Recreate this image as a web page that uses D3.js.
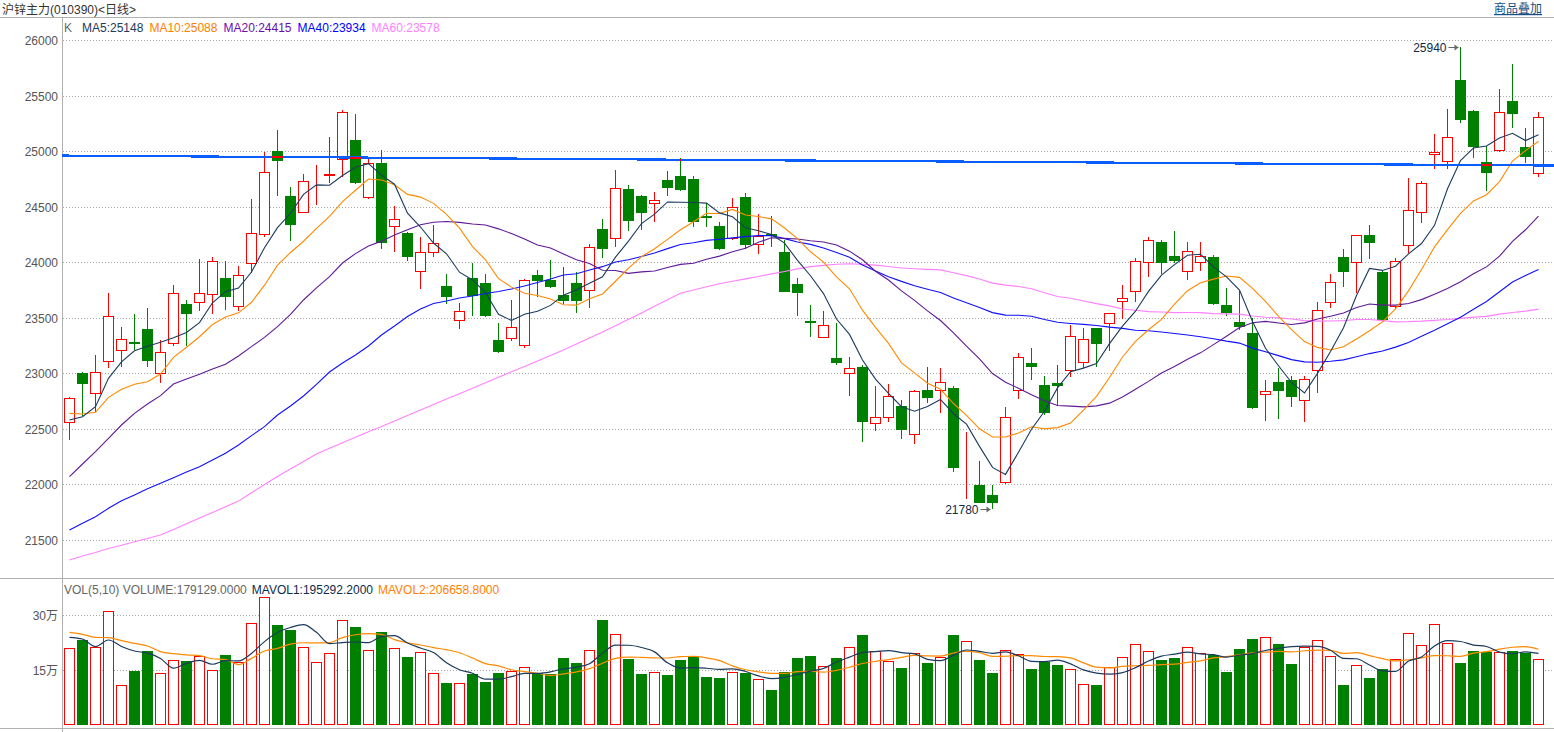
<!DOCTYPE html>
<html><head><meta charset="utf-8">
<script src="https://cdn.jsdelivr.net/npm/d3@7"></script>
<style>
html,body{margin:0;padding:0;background:#fff;overflow:hidden;}
svg{display:block;font-family:"Liberation Sans",Arial,"Noto Sans CJK SC",sans-serif;}
</style></head><body>
<svg id="chart" width="1554" height="732"></svg>
<script>
// ---------- DATA ----------
const title = "沪锌主力(010390)<日线>";
const opens = [22565,23000,22820,23108,23207,23285,23399,23000,23270,23624,23645,23711,23858,23603,23996,24251,25001,24596,24455,24685,
24788,24926,25100,24584,24896,24326,24266,23918,24089,23786,23480,23855,23813,23300,23315,23252,23885,23840,23705,23813,
23747,24299,24215,24659,24596,24530,24740,24776,24749,24420,24326,24215,24587,24161,24250,24095,23804,23470,23330,23141,
23000,23060,22550,22604,22706,22451,22850,22847,22868,22020,21995,21905,22025,22847,23090,22895,22910,23027,23099,23408,
23450,23648,23738,24005,24182,24056,23918,23999,24047,23615,23459,23360,22811,22922,22940,22757,23030,23645,24044,23999,
24245,23915,23606,24155,24449,24971,24908,25640,25361,24899,25010,25451,25034,24800];
const highs = [22790,23010,23165,23723,23414,23534,23588,23300,23795,23660,24026,24050,24008,23966,24569,24995,25190,24674,24794,24875,
25130,25370,25334,24926,25010,24506,24275,24230,24335,23894,23630,23996,23891,23456,23660,23849,23930,24020,23954,23915,
24164,24389,24830,24695,24608,24629,24821,24935,24776,24530,24365,24581,24626,24434,24416,24200,23855,23615,23564,23450,
23150,23075,22889,22904,22760,22850,23060,23048,22889,22472,22214,21995,22694,23180,23228,22976,23075,23435,23405,23410,
23545,23795,24038,24227,24200,24281,24182,24182,24068,23765,23744,23495,22940,23045,22976,22976,23645,23891,24119,24245,
24335,23930,24035,24761,24731,25154,25379,25940,25370,25049,25559,25784,25205,25355];
const lows = [22400,22619,22649,23051,23060,23210,23060,22916,23246,23246,23561,23537,23570,23561,23906,24224,24599,24194,24446,24515,
24710,24764,24701,24566,24122,24095,24014,23762,24044,23624,23402,23516,23510,23185,23290,23231,23690,23770,23624,23540,
23585,24041,24140,24284,24290,24365,24596,24640,24320,24320,24110,24200,24116,24077,24140,23730,23519,23330,23324,23075,
22799,22385,22484,22565,22409,22361,22736,22646,22115,21866,21830,21780,22004,22769,22940,22625,22706,22970,23045,23060,
23204,23489,23645,23870,23894,23990,23843,23924,23612,23519,23390,22679,22574,22592,22694,22565,22820,23585,23780,23720,
24026,23465,23585,24086,24356,24836,24836,25256,24935,24641,24989,25211,24890,24770];
const closes = [22775,22904,23015,23513,23306,23275,23114,23189,23720,23537,23720,24008,23690,23882,24260,24812,24914,24335,24731,24690,
24795,25349,24710,24890,24176,24386,24044,24089,24170,23690,23558,23696,23519,23192,23414,23837,23834,23780,23654,23654,
24134,24122,24665,24374,24446,24557,24671,24650,24365,24415,24119,24494,24155,24236,24240,23735,23720,23460,23432,23096,
23045,22565,22604,22793,22493,22838,22781,22919,22151,22025,21836,21836,22604,23147,23060,22646,22889,23334,23306,23267,
23540,23675,24009,24197,23996,24014,24098,24056,23627,23543,23420,22691,22844,22844,22790,22949,23570,23825,23915,24242,
24170,23480,24011,24470,24710,24989,25124,25280,25040,24800,25349,25335,24950,25305];
const volumes = [209100,231800,211800,310000,108200,147300,201800,140900,176400,174500,187300,149100,190900,171800,277300,348200,272700,259100,211800,171800,
195500,285500,267300,203600,253600,209100,185500,198200,140900,114500,113600,139100,117300,141800,147300,157300,140900,138200,182700,169100,
203600,286400,248200,180000,139100,143600,136400,177300,185500,130900,128200,143600,141800,124500,95500,144500,182700,188200,160000,182700,
211800,245500,200900,173600,155500,195500,169100,184500,245500,228200,177300,141800,203600,192700,152700,172700,163600,151800,110900,109100,
157300,184500,220000,200900,177300,182700,211800,196400,190900,144500,207300,234500,239100,220900,166400,213600,230900,187300,109100,162700,
128200,151800,179100,250000,219000,276500,225000,168500,201127,199500,200000,202300,195532,179129];
const ma5Head  = [22580,22610,22700,22955];
const ma10Head = [22640,22634,22649,22784,22856,22901,22925,22994,23144];
const ma20Head = [22070,22184,22295,22415,22535,22640,22724,22799,22904,22949,22991,23039,23081,23156,23240,23324,23420,23531,23660];
const ma40Head = [21590,21650,21710,21785,21854,21905,21962,22010,22061,22112,22160,22220,22280,22355,22439,22520,22625,22706,22796,22901,
23012,23093,23165,23246,23345,23426,23512,23579,23629,23651,23678,23696,23719,23737,23759,23786,23818,23849,23885];
const ma60Head = [21320,21356,21388,21424,21453,21484,21514,21545,21595,21647,21697,21748,21799,21850,21925,21999,22072,22139,22207,22274,
22326,22376,22424,22474,22522,22572,22620,22670,22719,22768,22817,22866,22915,22964,23014,23062,23112,23160,23210,23264,
23317,23371,23428,23486,23543,23603,23662,23720,23750,23780,23806,23828,23850,23872,23895,23917,23940,23960,23972];
const mavol5Head  = [239100,234500,213600,231800];
const mavol10Head = [252700,247300,239100,238200,230000,222700,215500,200000,194500];
const priceTicks = [21500,22000,22500,23000,23500,24000,24500,25000,25500,26000];
const volTicks = [150000,300000];
const volTickLabels = ["15万","30万"];
const trendIdx = [-0.54, 114.23];
const trendPrice = [24960, 24870];

// ---------- SETUP ----------
const svg = d3.select("#chart");
const W = 1554, H = 732, N = closes.length;
const x = d3.scaleLinear().domain([0, N-1]).range([69.5, 1538.5]);
const y = d3.scaleLinear().domain([21500, 26000]).range([540, 40]);
const yv = d3.scaleLinear().domain([0, 300000]).range([725, 615]);
const RED = "#ff0000", GREEN = "#008000", GRID = "#a8a8a8", FRAME = "#b0b0b0";
const C5 = "#1b3a5e", C10 = "#ff8a00", C20 = "#5e1a96", C40 = "#1010ff", C60 = "#ff80ff";

function ma(vals, n, head) {
  return vals.map((v, i) => i < n - 1 ? head[i] : d3.mean(vals.slice(i - n + 1, i + 1)));
}
const ma5 = ma(closes, 5, ma5Head), ma10 = ma(closes, 10, ma10Head), ma20 = ma(closes, 20, ma20Head),
      ma40 = ma(closes, 40, ma40Head), ma60 = ma(closes, 60, ma60Head);
const mv5 = ma(volumes, 5, mavol5Head), mv10 = ma(volumes, 10, mavol10Head);

// ---------- FRAME ----------
svg.append("rect").attr("width", W).attr("height", H).attr("fill", "#fff");
svg.append("text").attr("x", 2).attr("y", 14).attr("font-size", 12).attr("fill", "#333").text(title);
svg.append("text").attr("x", 1542).attr("y", 13).attr("text-anchor", "end")
  .attr("font-size", 12).attr("fill", "#144f86").attr("text-decoration", "underline").text("商品叠加");
svg.append("line").attr("x1", 0).attr("x2", W).attr("y1", 17.5).attr("y2", 17.5).attr("stroke", FRAME);
svg.append("line").attr("x1", 62.5).attr("x2", 62.5).attr("y1", 18).attr("y2", H).attr("stroke", FRAME);
svg.append("line").attr("x1", 0).attr("x2", W).attr("y1", 578.5).attr("y2", 578.5).attr("stroke", FRAME);
svg.append("line").attr("x1", 0).attr("x2", W).attr("y1", 728.5).attr("y2", 728.5).attr("stroke", FRAME);

// grid + labels
const gGrid = svg.append("g");
priceTicks.forEach(t => {
  const yy = Math.round(y(t)) + 0.5;
  gGrid.append("line").attr("x1", 63).attr("x2", W).attr("y1", yy).attr("y2", yy)
    .attr("stroke", GRID).attr("stroke-dasharray", "1,2");
  gGrid.append("text").attr("x", 58).attr("y", yy + 4).attr("text-anchor", "end")
    .attr("font-size", 12).attr("fill", "#555").text(t);
});
volTicks.forEach((t, k) => {
  const yy = Math.round(yv(t)) + 0.5;
  gGrid.append("line").attr("x1", 63).attr("x2", W).attr("y1", yy).attr("y2", yy)
    .attr("stroke", GRID).attr("stroke-dasharray", "1,2");
  gGrid.append("text").attr("x", 58).attr("y", yy + 4).attr("text-anchor", "end")
    .attr("font-size", 12).attr("fill", "#555").text(volTickLabels[k]);
});

// ---------- CANDLES ----------
const gC = svg.append("g").attr("shape-rendering", "crispEdges");
for (let i = 0; i < N; i++) {
  const cx = x(i), o = opens[i], c = closes[i], up = c > o;
  const yTop = Math.round(y(Math.max(o, c))), yBot = Math.round(y(Math.min(o, c)));
  const yH = Math.round(y(highs[i])), yL = Math.round(y(lows[i]));
  if (up) {
    gC.append("line").attr("x1", cx).attr("x2", cx).attr("y1", yH).attr("y2", yTop).attr("stroke", RED);
    gC.append("line").attr("x1", cx).attr("x2", cx).attr("y1", yBot).attr("y2", yL).attr("stroke", RED);
    gC.append("rect").attr("x", cx - 5).attr("y", yTop + 0.5).attr("width", 10).attr("height", Math.max(0, yBot - yTop))
      .attr("fill", "#fff").attr("stroke", RED);
  } else {
    gC.append("line").attr("x1", cx).attr("x2", cx).attr("y1", yH).attr("y2", yL).attr("stroke", GREEN);
    gC.append("rect").attr("x", cx - 5.5).attr("y", yTop).attr("width", 11).attr("height", Math.max(1.5, yBot - yTop))
      .attr("fill", GREEN);
  }
}

// ---------- MA LINES ----------
const line = d3.line().x((d, i) => x(i)).y(d => y(d));
[[ma60, C60], [ma40, C40], [ma20, C20], [ma10, C10], [ma5, C5]].forEach(([arr, col]) => {
  svg.append("path").attr("d", line(arr)).attr("fill", "none").attr("stroke", col).attr("stroke-width", 1.1);
});

// ---------- TREND LINE ----------
const tLine = d3.line().x(d => x(d[0])).y(d => y(d[1]));
const tPts = trendIdx.map((v, k) => [v, trendPrice[k]]);
svg.append("path").attr("d", tLine(tPts)).attr("stroke", "#0a5eff").attr("stroke-width", 2.2)
  .attr("fill", "none").attr("shape-rendering", "crispEdges");
const tScale = d3.scaleLinear().domain(trendIdx).range(trendPrice);
for (let i = 0; i < N; i++) {
  if (closes[i] > opens[i]) continue;
  const tp = tScale(i);
  if (tp <= highs[i] && tp >= lows[i]) {
    const inBody = tp <= Math.max(opens[i], closes[i]) && tp >= Math.min(opens[i], closes[i]);
    const w = inBody ? 11 : 1;
    svg.append("rect").attr("x", x(i) - w / 2).attr("y", Math.round(y(tp)) - 1).attr("width", w).attr("height", 2)
      .attr("fill", RED).attr("shape-rendering", "crispEdges");
  }
}

// ---------- HIGH / LOW MARKERS ----------
function marker(i, price) {
  const cx = x(i), yy = Math.round(y(price)) + 0.5;
  svg.append("text").attr("x", cx - 14).attr("y", yy + 4).attr("text-anchor", "end")
    .attr("font-size", 12).attr("fill", "#0d2b4c").text(price);
  svg.append("line").attr("x1", cx - 12).attr("x2", cx - 2).attr("y1", yy).attr("y2", yy).attr("stroke", "#666");
  svg.append("path").attr("d", `M${cx-2},${yy} l-4,-3 v6 z`).attr("fill", "#666");
}
const iMax = d3.maxIndex(highs), iMin = d3.minIndex(lows);
marker(iMax, highs[iMax]);
marker(iMin, lows[iMin]);

// ---------- LEGEND ----------
function chain(items, x0, yb) {
  let cx = x0;
  items.forEach(([txt, col, gap]) => {
    const t = svg.append("text").attr("x", cx).attr("y", yb).attr("font-size", 12).attr("fill", col).text(txt);
    cx += t.node().getComputedTextLength() + gap;
  });
}
const f0 = v => Math.round(v);
chain([["K", "#666", 10],
       ["MA5:" + f0(ma5[N-1]), C5, 6],
       ["MA10:" + f0(ma10[N-1]), "#ff8000", 6],
       ["MA20:" + f0(ma20[N-1]), "#6a0dad", 6],
       ["MA40:" + f0(ma40[N-1]), "#0000ff", 6],
       ["MA60:" + f0(ma60[N-1]), "#ff7fff", 6]], 64, 32);

// ---------- VOLUME ----------
const gV = svg.append("g").attr("shape-rendering", "crispEdges");
for (let i = 0; i < N; i++) {
  const cx = x(i), up = closes[i] > opens[i];
  const yt = Math.round(yv(volumes[i])), yb = Math.round(yv(0));
  if (up) {
    gV.append("rect").attr("x", cx - 5).attr("y", yt + 0.5).attr("width", 10).attr("height", yb - yt - 1)
      .attr("fill", "#fff").attr("stroke", RED);
  } else {
    gV.append("rect").attr("x", cx - 5.5).attr("y", yt).attr("width", 11).attr("height", yb - yt).attr("fill", GREEN);
  }
}
const vline = d3.line().x((d, i) => x(i)).y(d => yv(d)).curve(d3.curveMonotoneX);
svg.append("path").attr("d", vline(mv10)).attr("fill", "none").attr("stroke", "#ff8a00").attr("stroke-width", 1.2);
svg.append("path").attr("d", vline(mv5)).attr("fill", "none").attr("stroke", "#1b3a5e").attr("stroke-width", 1.2);
const f4 = v => v.toFixed(4);
chain([["VOL(5,10) VOLUME:" + f4(volumes[N-1]), "#666", 5],
       ["MAVOL1:" + f4(mv5[N-1]), "#0d2b4c", 5],
       ["MAVOL2:" + f4(mv10[N-1]), "#ff8000", 5]], 64, 594);
</script>
</body></html>
